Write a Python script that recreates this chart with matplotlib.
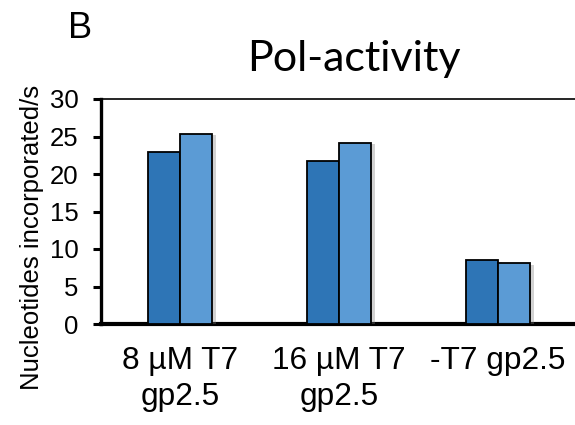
import numpy as np
import matplotlib.pyplot as plt
import matplotlib.patheffects as pe

# ── Data ──────────────────────────────────────────────────────────────────────
CATEGORIES = ['8 µM T7\ngp2.5', '16 µM T7\ngp2.5', '-T7 gp2.5']
SERIES_A   = [22.9, 21.8, 8.5]    # dark blue
SERIES_B   = [25.4, 24.2, 8.1]    # light blue
Y_TICKS    = [0, 5, 10, 15, 20, 25, 30]

DARK  = '#2E75B6'
LIGHT = '#5B9BD5'

plt.rcParams['font.family'] = ['Liberation Sans', 'DejaVu Sans']

W, H = 575, 425
fig = plt.figure(figsize=(W / 100, H / 100), dpi=100)
ax = fig.add_axes([101 / W, (H - 324) / H, (W - 101) / W, 225 / H])

x = np.arange(len(CATEGORIES))
width = 0.2
shadow = [pe.SimplePatchShadow(offset=(3, -1), shadow_rgbFace='gray', alpha=0.35), pe.Normal()]
ax.bar(x - width / 2, SERIES_A, width, color=DARK, edgecolor='black', linewidth=1.3,
       path_effects=shadow, zorder=3)
ax.bar(x + width / 2, SERIES_B, width, color=LIGHT, edgecolor='black', linewidth=1.3,
       path_effects=shadow, zorder=3)

ax.set_xlim(-0.497, 2.484)
ax.set_ylim(0, 30)
ax.set_yticks(Y_TICKS)
ax.tick_params(axis='y', labelsize=18.5, width=2.2, length=6, pad=10)
ax.set_xticks(x)
ax.set_xticklabels(CATEGORIES, fontsize=22.8, linespacing=1.25)
ax.tick_params(axis='x', length=0, pad=16)

ax.spines['right'].set_visible(False)
ax.spines['left'].set_linewidth(2.4)
ax.spines['bottom'].set_linewidth(3.0)
ax.spines['top'].set_linewidth(1.2)

fig.text(354 / W, 1 - 71 / H, 'Pol-activity', ha='center', va='baseline',
         fontsize=31, family=['Lato', 'DejaVu Sans'])
fig.text(68 / W, 1 - 38 / H, 'B', ha='left', va='baseline', fontsize=26)
fig.text(32 / W, 1 - 237 / H, 'Nucleotides incorporated/s', rotation=90,
         ha='center', va='center', fontsize=18.5)

plt.savefig('out.png', dpi=100)
plt.close()
